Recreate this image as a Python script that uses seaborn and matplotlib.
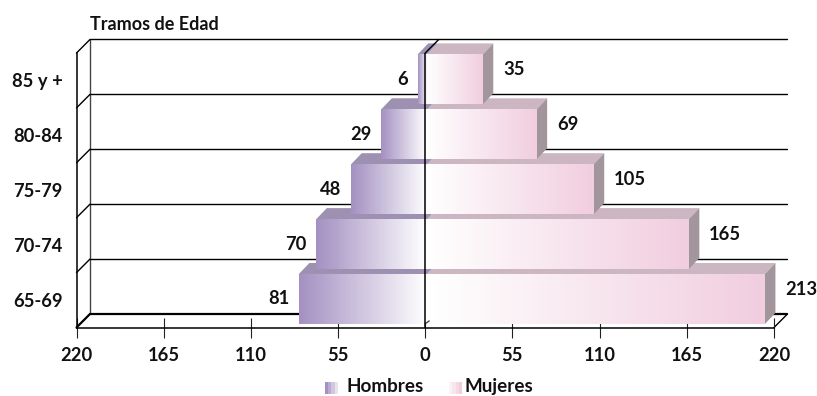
import numpy as np
import pandas as pd
import seaborn as sns
import matplotlib.pyplot as plt
from matplotlib.colors import LinearSegmentedColormap
from matplotlib.patches import Polygon

tramos = ['85 y +', '80-84', '75-79', '70-74', '65-69']
hombres = [6, 29, 48, 70, 81]
mujeres = [35, 69, 105, 165, 213]
ticks = [-220, -165, -110, -55, 0, 55, 110, 165, 220]
tick_labels = ['220', '165', '110', '55', '0', '55', '110', '165', '220']

W, H = 817, 396
sns.set_theme(style='white')
plt.rcParams['font.family'] = ['Lato', 'DejaVu Sans']
plt.rcParams['font.weight'] = 'bold'

df = pd.DataFrame({
    'tramo': tramos * 2,
    'valor': [-v for v in hombres] + mujeres,
    'sexo': ['Hombres'] * 5 + ['Mujeres'] * 5,
})

fig = plt.figure(figsize=(W / 100, H / 100), dpi=100, facecolor='white')
ax = fig.add_axes([76.5 / W, 1 - 327.5 / H, 697.5 / W, 274.5 / H])
ax.patch.set_alpha(0)

sns.barplot(data=df, y='tramo', x='valor', hue='sexo', order=tramos, dodge=False,
            palette={'Hombres': '#a593c3', 'Mujeres': '#f0cfe0'}, width=0.91,
            legend=False, ax=ax)

cm_h = LinearSegmentedColormap.from_list('h', ['#a491c2', '#ffffff'])
cm_m = LinearSegmentedColormap.from_list('m', ['#ffffff', '#f1cedf'])
grad = np.linspace(0, 1, 64).reshape(1, -1)

dx, dy = 8.5, 0.246      # depth of the walls
bx, by = 6.6, 0.2        # depth of the bars
shift_x, shift_y = 1.3, -0.02

for i, p in enumerate(ax.patches):
    p.set_x(p.get_x() + shift_x)
    p.set_y(p.get_y() + shift_y)
    p.set_linewidth(0)
    x0, y0, w, h = p.get_x(), p.get_y(), p.get_width(), p.get_height()
    x1 = x0 + w
    left, right = min(x0, x1), max(x0, x1)
    men = left < shift_x - 0.01
    row = round(y0 + h / 2)
    # upper bars sit in front of the top face of the lower ones
    z = 4 - row * 0.1
    p.set_zorder(z)
    top = '#9d90b1' if men else '#cbb6c2'
    ax.add_patch(Polygon([(left, y0), (left + bx, y0 - by), (right + bx, y0 - by), (right, y0)],
                         closed=True, fc=top, ec='none', zorder=z, clip_on=False))
    if not men:
        ax.add_patch(Polygon([(right, y0), (right + bx, y0 - by), (right + bx, y0 + h - by), (right, y0 + h)],
                             closed=True, fc='#a2959c', ec='none', zorder=z, clip_on=False))
    im = ax.imshow(grad, cmap=cm_h if men else cm_m, aspect='auto', interpolation='nearest',
                   extent=(left, right, y0 + h, y0), zorder=z + 0.01)
    im.set_clip_path(p)

# back wall and floor
ax.plot([-220 + dx, -220 + dx], [-0.5 - dy, 4.5 - dy], color='#444444', lw=1, zorder=1, clip_on=False)
for k in range(5):
    lev = k - 0.5 - dy
    ax.plot([-220 + dx, 220 + dx], [lev, lev], color='black', lw=1, zorder=1, clip_on=False)
    ax.plot([-220, -220 + dx], [k - 0.5, lev], color='black', lw=1, zorder=1, clip_on=False)
ax.plot([-220 + dx, 220 + dx], [4.5 - dy, 4.5 - dy], color='black', lw=1.6, zorder=1, clip_on=False)
ax.plot([-220, -220 + dx], [4.5, 4.5 - dy], color='black', lw=1.6, zorder=1, clip_on=False)
ax.plot([220, 220 + dx], [4.5, 4.5 - dy], color='black', lw=1, zorder=1, clip_on=False)
ax.plot([0, dx], [-0.5, -0.5 - dy], color='black', lw=1, zorder=6, clip_on=False)
ax.plot([0, 2.5], [4.43, 4.43 - 0.05], color='#444444', lw=1, zorder=6, clip_on=False)
ax.axvline(0, color='black', lw=1.1, zorder=6)

ax.set_xlim(-220, 220)
ax.set_ylim(4.5, -0.5)
ax.set_xticks(ticks)
ax.set_xticklabels(tick_labels, fontsize=13.2, color='#111111')
ax.set_xlabel('')
ax.set_ylabel('')
ax.tick_params(axis='x', direction='inout', length=14.5, width=0.8, color='#222222', pad=7, bottom=True)
ax.tick_params(axis='y', left=False, pad=4, labelsize=13.2, labelcolor='#111111')
ax.set_axisbelow(False)
sns.despine(ax=ax, top=True, right=True)
for s in ('left', 'bottom'):
    ax.spines[s].set_color('black')
    ax.spines[s].set_linewidth(1.1)
    ax.spines[s].set_zorder(6)

# value labels
for i in range(5):
    yc = i + shift_y
    ax.annotate(str(hombres[i]), (-hombres[i] + shift_x, yc), xytext=(-7, 0), textcoords='offset points',
                ha='right', va='center', fontsize=13.2, color='#111111', zorder=7)
    ax.annotate(str(mujeres[i]), (mujeres[i] + shift_x, yc - 0.18), xytext=(14.5, 0), textcoords='offset points',
                ha='left', va='center', fontsize=13.2, color='#111111', zorder=7, annotation_clip=False)

fig.text(90 / W, 1 - 24 / H, 'Tramos de Edad', fontsize=13, color='#111111', ha='left', va='center')

# legend
for x, cm, label, tx in [(325, cm_h, 'Hombres', 347), (446, cm_m, 'Mujeres', 465)]:
    lax = fig.add_axes([x / W, 1 - 394 / H, 16 / W, 12 / H])
    lax.imshow(np.linspace(0, 1, 5).reshape(1, -1), cmap=cm, aspect='auto', interpolation='nearest')
    lax.axis('off')
    fig.text(tx / W, 1 - 392 / H, label, fontsize=13.6, color='#111111', ha='left', va='baseline')

fig.savefig('out.png', dpi=100)
